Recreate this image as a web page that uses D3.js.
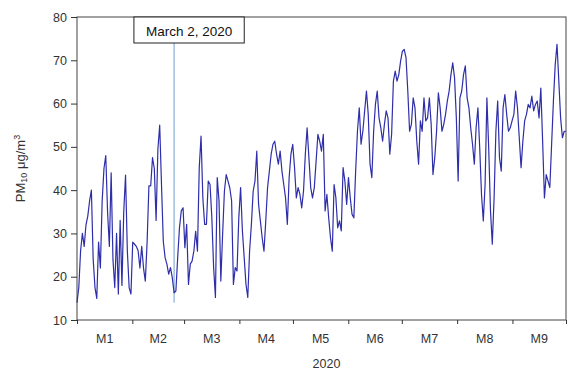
<!DOCTYPE html>
<html>
<head>
<meta charset="utf-8">
<script src="https://cdn.jsdelivr.net/npm/d3@7"></script>
<style>
  body { margin: 0; background: #fff; }
  svg text { font-family: "Liberation Sans", Arial, sans-serif; }
</style>
</head>
<body>
<div id="chart"></div>
<script>
// daily PM10, Jan..Sep 2020
const pm10 = [
  14, 17.5, 26, 30, 27, 32, 34, 37.5, 40, 24, 17.5, 15, 28, 22, 37.5, 45, 48, 35, 27, 44,
  24, 17.5, 30, 16, 33, 18, 35, 43.5, 26, 17.5, 16, 28, 27.5, 27, 26, 22, 27, 22, 19, 28,
  41, 41, 47.5, 45, 33, 49.5, 55,
  41.3, 28.2, 24.4, 22.9, 20.6, 22.1, 19.8, 16.3, 16.7, 24.4, 31.3, 35.2, 35.9, 26.7, 32.1, 18.2,
  22.9, 23.6, 25.9, 30.5, 25.9, 45.2, 52.5, 38.2, 32.1, 32.1, 42.1, 41.3, 33.6, 22.1, 15.2, 42.9,
  37.5, 19, 29.8, 39.8, 43.6, 42.1, 40.5, 37.5, 18.2, 22.1,
  21.3, 33.6, 40.6, 30.6, 24.4, 18.2, 15.2, 25.9, 32.1, 39.8, 42.1, 49, 36.7, 32.9, 29, 25.9,
  32.9, 40.6, 44.4, 48.3, 50.6, 51.3, 48.3, 46, 49, 44.4, 41.3, 38.2, 32.1, 42.9, 48.3, 50.6,
  45.2, 38.2, 40.6, 39, 35.9, 39.8, 48.3, 54.4, 47.5, 40.6, 38.2, 40.6, 46.7, 52.9, 51.3, 49,
  52.9, 35.2,
  39, 33.6, 29, 25.9, 41.3, 38.2, 31.3, 32.9, 30.6, 45.2, 42.1, 36.7, 42.9, 38.2, 34.4, 33.6,
  44.4, 53.6, 59, 50.6, 53.6, 58.3, 62.9, 57.5, 46, 42.9, 53.6, 59.8, 62.9, 56.7, 54.4, 51.3,
  55.2, 58.3, 56.7, 48.3, 52.9, 65.2, 67.5, 65.2, 66.7, 69.8, 72.1, 72.5, 70.6, 62.9, 53.6,
  55.2, 61.3, 59, 51.3, 46, 56, 53.6, 61.3, 56, 56.7, 61.3, 55.2, 43.6, 47.5, 53.6, 62.5,
  59, 53.6, 55.2, 57.5, 60.6, 62.9, 66.7, 69.4, 66, 56.7, 42.1, 61.3, 62.9, 66.7, 68.7, 61.3,
  59, 54.4, 50.6, 46, 54.4, 59, 49.8, 39, 32.9, 41.3, 61.3, 49.8,
  35.2, 27.5, 38.2, 53.6, 60.6, 47.5, 44.4, 59, 62.1, 57.5, 53.6, 54.4, 56, 57.5, 62.9, 59,
  52.1, 45.2, 51.3, 56, 57.5, 59.8, 59, 61.7, 58.3, 59.8, 60.6, 56.7, 63.6, 51.3, 38.2, 43.6,
  42.1, 40.6, 50.6, 60.6, 69, 73.7, 65.2, 56.7, 52.1, 53.6, 53.6
];

const months = ["M1", "M2", "M3", "M4", "M5", "M6", "M7", "M8", "M9"];
const monthDays = [31, 29, 31, 30, 31, 30, 31, 31, 30];
const yTicks = [10, 20, 30, 40, 50, 60, 70, 80];

// the dip marked in the picture
const note = { label: "March 2, 2020", index: 54 };

const W = 568, H = 374;
const margin = { top: 17, right: 2, bottom: 54, left: 77 };

const svg = d3.select("#chart").append("svg")
  .attr("width", W).attr("height", H);

const x0 = margin.left, x1 = W - margin.right;
const y0 = margin.top, y1 = H - margin.bottom;

// days since Jan 1 -> px
const cum = [0];
monthDays.forEach(d => cum.push(cum[cum.length - 1] + d));
const xDay = d3.scaleLinear().domain([0, cum[cum.length - 1]]).range([x0, x1]);
// series index -> px
const x = d3.scaleLinear().domain([0, pm10.length - 1]).range([x0, x1]);
const y = d3.scaleLinear().domain([10, 80]).range([y1, y0]);

// frame
svg.append("rect")
  .attr("x", x0).attr("y", y0)
  .attr("width", x1 - x0).attr("height", y1 - y0)
  .attr("fill", "none").attr("stroke", "#444").attr("stroke-width", 1);

// y axis
const yAxis = svg.append("g")
  .attr("transform", `translate(${x0},0)`)
  .call(d3.axisLeft(y).tickValues(yTicks).tickSize(6).tickPadding(4));
yAxis.select(".domain").remove();
yAxis.selectAll("line").attr("stroke", "#333");
yAxis.selectAll("text")
  .attr("font-size", 12.5).attr("fill", "#333")
  .attr("font-family", "Liberation Sans, Arial, sans-serif");

// x axis: ticks on month boundaries, labels centered in the month
const xAxis = svg.append("g")
  .attr("transform", `translate(0,${y1})`)
  .call(d3.axisBottom(xDay).tickValues(cum).tickSize(4).tickFormat(""));
xAxis.select(".domain").remove();
xAxis.selectAll("line").attr("stroke", "#333");

svg.append("g").selectAll("text")
  .data(months)
  .join("text")
  .attr("x", (d, i) => xDay((cum[i] + cum[i + 1]) / 2))
  .attr("y", y1 + 23)
  .attr("text-anchor", "middle")
  .attr("font-size", 12.5).attr("fill", "#333")
  .text(d => d);

svg.append("text")
  .attr("x", (x0 + x1) / 2 + 5).attr("y", H - 6)
  .attr("text-anchor", "middle")
  .attr("font-size", 12.5).attr("fill", "#333")
  .text("2020");

// y label
const yl = svg.append("text")
  .attr("transform", `translate(25,${(y0 + y1) / 2}) rotate(-90)`)
  .attr("text-anchor", "middle")
  .attr("font-size", 13).attr("fill", "#333");
yl.append("tspan").text("PM");
yl.append("tspan").attr("font-size", 9).attr("dy", 2).text("10");
yl.append("tspan").attr("dy", -2).text(" μg/m");
yl.append("tspan").attr("font-size", 9).attr("dy", -5).text("3");

// annotation line + box
const nx = x(note.index);
svg.append("line")
  .attr("x1", nx).attr("x2", nx)
  .attr("y1", y0 + 26).attr("y2", y(pm10[note.index]) + 10)
  .attr("stroke", "#6f9fd0").attr("stroke-width", 1);

// series
const line = d3.line()
  .x((d, i) => x(i))
  .y(d => y(d));

svg.append("path")
  .datum(pm10)
  .attr("d", line)
  .attr("fill", "none")
  .attr("stroke", "#2e2eaa")
  .attr("stroke-width", 1.2)
  .attr("stroke-linejoin", "round");

const box = svg.append("g");
const noteText = box.append("text")
  .attr("x", nx + 15).attr("y", y0 + 18.5)
  .attr("text-anchor", "middle")
  .attr("font-family", "Open Sans, sans-serif")
  .attr("font-size", 13.5).attr("fill", "#111")
  .text(note.label);
const bb = noteText.node().getBBox();
box.insert("rect", "text")
  .attr("x", bb.x - 12).attr("y", y0)
  .attr("width", bb.width + 24).attr("height", 26)
  .attr("fill", "#fff").attr("stroke", "#222").attr("stroke-width", 1);
</script>
</body>
</html>
